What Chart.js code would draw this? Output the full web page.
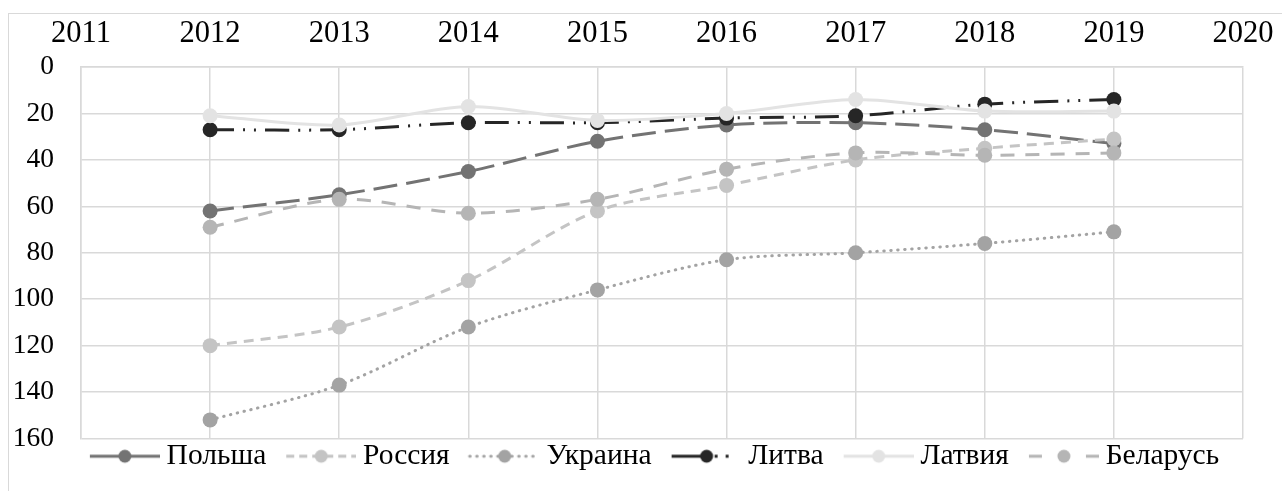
<!DOCTYPE html>
<html>
<head>
<meta charset="utf-8">
<script src="https://cdn.jsdelivr.net/npm/chart.js@4.4.1/dist/chart.umd.min.js"></script>
<style>
  html, body { margin: 0; padding: 0; background: #fff; overflow: hidden; }
  #frame {
    position: absolute; left: 8px; top: 13px; width: 1400px; height: 600px;
    border-top: 1.5px solid #d9d9d9; border-left: 1.5px solid #d9d9d9;
  }
  #wrap { position: absolute; left: 0; top: 0; width: 1282px; height: 491px; }
</style>
</head>
<body>
<div id="frame"></div>
<div id="wrap"><canvas id="chart"></canvas></div>
<script>
  "use strict";

  // tick labels (x axis runs from 2011 to 2020, data only 2012-2019)
  const years = ["2011", "2012", "2013", "2014", "2015", "2016", "2017", "2018", "2019", "2020"];
  const countries = ["Польша", "Россия", "Украина", "Литва", "Латвия", "Беларусь"];

  // values (y axis is reversed: 0 at top)
  const poland    = [null,  62,  55,  45, 32, 25, 24, 27, 33, null];
  const russia    = [null, 120, 112,  92, 62, 51, 40, 35, 31, null];
  const ukraine   = [null, 152, 137, 112, 96, 83, 80, 76, 71, null];
  const lithuania = [null,  27,  27,  24, 24, 22, 21, 16, 14, null];
  const latvia    = [null,  21,  25,  17, 23, 20, 14, 19, 19, null];
  const belarus   = [null,  69,  57,  63, 57, 44, 37, 38, 37, null];

  const seriesValues = [poland, russia, ukraine, lithuania, latvia, belarus];
  const colors = ["#737373", "#c4c4c4", "#a3a3a3", "#262626", "#e3e3e3", "#b5b5b5"];
  const dashes = [[24, 9], [10, 7], [0.5, 6.5], [24, 9, 2, 9, 2, 9], [], [14, 11]];
  // the legend samples are short, so they get their own patterns
  const iconDashes = [[], [8, 5], [0.5, 6.5], [35, 8, 3, 8, 3, 20], [], [13, 44]];
  const caps = ["butt", "butt", "round", "butt", "butt", "butt"];

  const serif = "'Liberation Serif', 'Times New Roman', serif";

  // little legend picture: dashed line with a marker in the middle
  // (transparent strip on the left gives the gap between legend entries)
  function legendIcon(color, dash, cap) {
    let c = document.createElement("canvas");
    c.width = 95;
    c.height = 20;
    let ctx = c.getContext("2d");
    ctx.strokeStyle = color;
    ctx.lineWidth = 3;
    ctx.lineCap = cap;
    ctx.setLineDash(dash);
    ctx.beginPath();
    ctx.moveTo(25, 10);
    ctx.lineTo(95, 10);
    ctx.stroke();
    ctx.setLineDash([]);
    ctx.fillStyle = color;
    ctx.beginPath();
    ctx.arc(60, 10, 6.5, 0, Math.PI * 2);
    ctx.fill();
    return c;
  }

  let datasets = countries.map((name, i) => ({
    label: name,
    data: seriesValues[i],
    borderColor: colors[i],
    backgroundColor: colors[i],
    borderWidth: 3,
    borderDash: dashes[i],
    borderCapStyle: caps[i],
    pointRadius: 7.5,
    pointBorderWidth: 0,
    pointBackgroundColor: colors[i],
    tension: 0.3,
    fill: false,
    order: countries.length - i
  }));

  let icons = countries.map((_, i) => legendIcon(colors[i], iconDashes[i], caps[i]));

  // nudge the legend row a little to the right, as in the picture
  const legendShift = {
    id: "legendShift",
    afterLayout(chart) {
      chart.legend.left += 5;
      chart.legend.right += 5;
    }
  };

  new Chart(document.getElementById("chart"), {
    type: "line",
    data: { labels: years, datasets: datasets },
    plugins: [legendShift],
    options: {
      responsive: true,
      maintainAspectRatio: false,
      animation: false,
      layout: { padding: { left: 0, top: 0, right: 0, bottom: 10 } },
      plugins: {
        tooltip: { enabled: false },
        legend: {
          position: "bottom",
          labels: {
            usePointStyle: true,
            pointStyleWidth: 79,
            padding: 3,
            color: "#000",
            font: { family: serif, size: 29.5 },
            sort: (a, b) => a.datasetIndex - b.datasetIndex,
            generateLabels: chart => {
              let items = Chart.defaults.plugins.legend.labels.generateLabels(chart);
              items.forEach(item => {
                item.pointStyle = icons[item.datasetIndex];
              });
              return items;
            }
          }
        }
      },
      scales: {
        x: {
          position: "top",
          offset: false,
          grid: { color: "#d9d9d9", lineWidth: 1.5, drawTicks: false },
          border: { color: "#d9d9d9", width: 1.5 },
          ticks: {
            color: "#000",
            padding: 15,
            maxRotation: 0,
            autoSkip: false,
            font: { family: serif, size: 30.5 }
          },
          afterFit: scale => {
            scale.height = 67;
            scale.paddingLeft = 0;
            scale.paddingRight = 39;
          }
        },
        y: {
          reverse: true,
          min: 0,
          max: 160,
          grid: { color: "#d9d9d9", lineWidth: 1.5, drawTicks: false },
          border: { color: "#d9d9d9", width: 1.5 },
          ticks: {
            stepSize: 20,
            color: "#000",
            padding: 27,
            font: { family: serif, size: 27.5 }
          },
          afterFit: scale => {
            scale.width = 81;
            scale.paddingTop = 0;
            scale.paddingBottom = 0;
          }
        }
      }
    }
  });
</script>
</body>
</html>
